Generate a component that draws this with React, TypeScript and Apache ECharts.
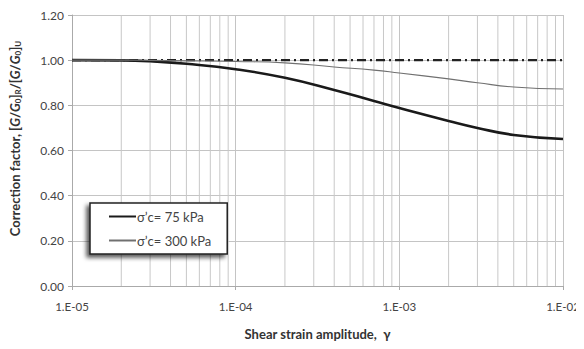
import React, { useEffect, useRef } from "react";
import * as echarts from "echarts";

const strain = [1e-5, 2e-5, 3e-5, 5e-5, 1e-4, 2e-4, 4e-4, 7e-4, 1e-3, 2e-3, 3e-3, 5e-3, 1e-2];
const cf75 = [1.0, 0.999, 0.995, 0.984, 0.96, 0.922, 0.868, 0.819, 0.788, 0.731, 0.7, 0.669, 0.651];
const cf300 = [1.0, 1.0, 0.999, 0.997, 0.994, 0.988, 0.97, 0.956, 0.943, 0.917, 0.9, 0.881, 0.872];
const refX = [1e-5, 1e-2];
const refY = [1.0, 1.0];
const decades = [1e-5, 1e-4, 1e-3];
const minorMult = [2, 3, 4, 5, 6, 7, 8, 9];
const seriesNames = ["σ’c= 75 kPa", "σ’c= 300 kPa"];
const yMin = 0;
const yMax = 1.2;

export default function App() {
  const ref = useRef<HTMLDivElement>(null);
  useEffect(() => {
    if (!ref.current) return;
    const chart = echarts.init(ref.current, null, { renderer: "svg" });
    const minor: any[] = [];
    decades.forEach((d) =>
      minorMult.forEach((m) => {
        const x = d * m;
        minor.push([x, yMin], [x, yMax], [x, "-"]);
      })
    );
    const font = "Lato, 'Open Sans', sans-serif";
    chart.setOption({
      animation: false,
      backgroundColor: "#fff",
      textStyle: { fontFamily: font },
      grid: { left: 72, right: 21, top: 15, bottom: 63 },
      legend: {
        data: seriesNames,
        orient: "vertical",
        left: 90,
        top: 203,
        padding: [7, 16, 7, 18],
        itemGap: 11,
        itemWidth: 27,
        itemHeight: 14,
        backgroundColor: "#fff",
        borderColor: "#222",
        borderWidth: 1.5,
        borderRadius: 0,
        shadowColor: "rgba(0,0,0,0.65)",
        shadowBlur: 4,
        shadowOffsetX: -3,
        shadowOffsetY: 3,
        itemStyle: { opacity: 0 },
        textStyle: { fontFamily: font, fontSize: 13, color: "#444", padding: [0, 0, 0, -4] },
      },
      xAxis: {
        type: "log",
        logBase: 10,
        min: 1e-5,
        max: 1e-2,
        name: "Shear strain amplitude,  γ",
        nameLocation: "middle",
        nameGap: 41,
        nameTextStyle: { fontFamily: font, fontSize: 13, fontWeight: "bold", color: "#333" },
        axisLine: { lineStyle: { color: "#aaa" } },
        axisTick: { show: true, length: 4, lineStyle: { color: "#aaa" } },
        axisLabel: {
          margin: 14,
          color: "#444",
          fontSize: 11.5,
          formatter: (v: number) => {
            const e = Math.round(Math.log10(v));
            const a = Math.abs(e);
            return "1.E" + (e < 0 ? "-" : "+") + (a < 10 ? "0" + a : "" + a);
          },
        },
        splitLine: { show: true, lineStyle: { color: "#c4c4c4", width: 1 } },
      },
      yAxis: {
        type: "value",
        min: yMin,
        max: yMax,
        interval: 0.2,
        name: "{a|Correction factor, [}{i|G}{a|/}{i|G}{s|0}{a|]}{s|R}{a|/[}{i|G}{a|/}{i|G}{s|0}{a|]}{s|U}",
        nameLocation: "middle",
        nameGap: 50,
        nameTextStyle: {
          fontFamily: font,
          color: "#333",
          padding: [0, 0, 0, 24],
          rich: {
            a: { fontSize: 13, fontWeight: "bold", color: "#333", fontFamily: font },
            i: { fontSize: 13, fontWeight: "bold", fontStyle: "italic", color: "#333", fontFamily: font },
            s: { fontSize: 8, fontWeight: "bold", color: "#333", fontFamily: font, verticalAlign: "bottom", padding: [7, 0, 0, 0] },
          },
        },
        axisLine: { show: true, lineStyle: { color: "#aaa" } },
        axisTick: { show: true, length: 4, lineStyle: { color: "#aaa" } },
        axisLabel: { margin: 8, color: "#444", fontSize: 12, formatter: (v: number) => v.toFixed(2) },
        splitLine: { show: true, lineStyle: { color: "#c4c4c4", width: 1 } },
      },
      series: [
        {
          name: "minorGrid",
          type: "line",
          data: minor,
          symbol: "none",
          connectNulls: false,
          z: 1,
          silent: true,
          lineStyle: { color: "#c8c8c8", width: 1 },
        },
        {
          name: "reference",
          type: "line",
          data: refX.map((x, i) => [x, refY[i]]),
          symbol: "none",
          z: 3,
          lineStyle: { color: "#222", width: 2.2, type: [9, 4, 2, 4] },
        },
        {
          name: seriesNames[0],
          type: "line",
          data: strain.map((x, i) => [x, cf75[i]]),
          symbol: "none",
          smooth: true,
          z: 4,
          color: "#1a1a1a",
          lineStyle: { color: "#1a1a1a", width: 2.6 },
        },
        {
          name: seriesNames[1],
          type: "line",
          data: strain.map((x, i) => [x, cf300[i]]),
          symbol: "none",
          smooth: true,
          z: 4,
          color: "#707070",
          lineStyle: { color: "#707070", width: 1.1 },
        },
      ],
    });
    return () => chart.dispose();
  }, []);
  return <div ref={ref} style={{ width: 584, height: 349, margin: -8 }} />;
}
